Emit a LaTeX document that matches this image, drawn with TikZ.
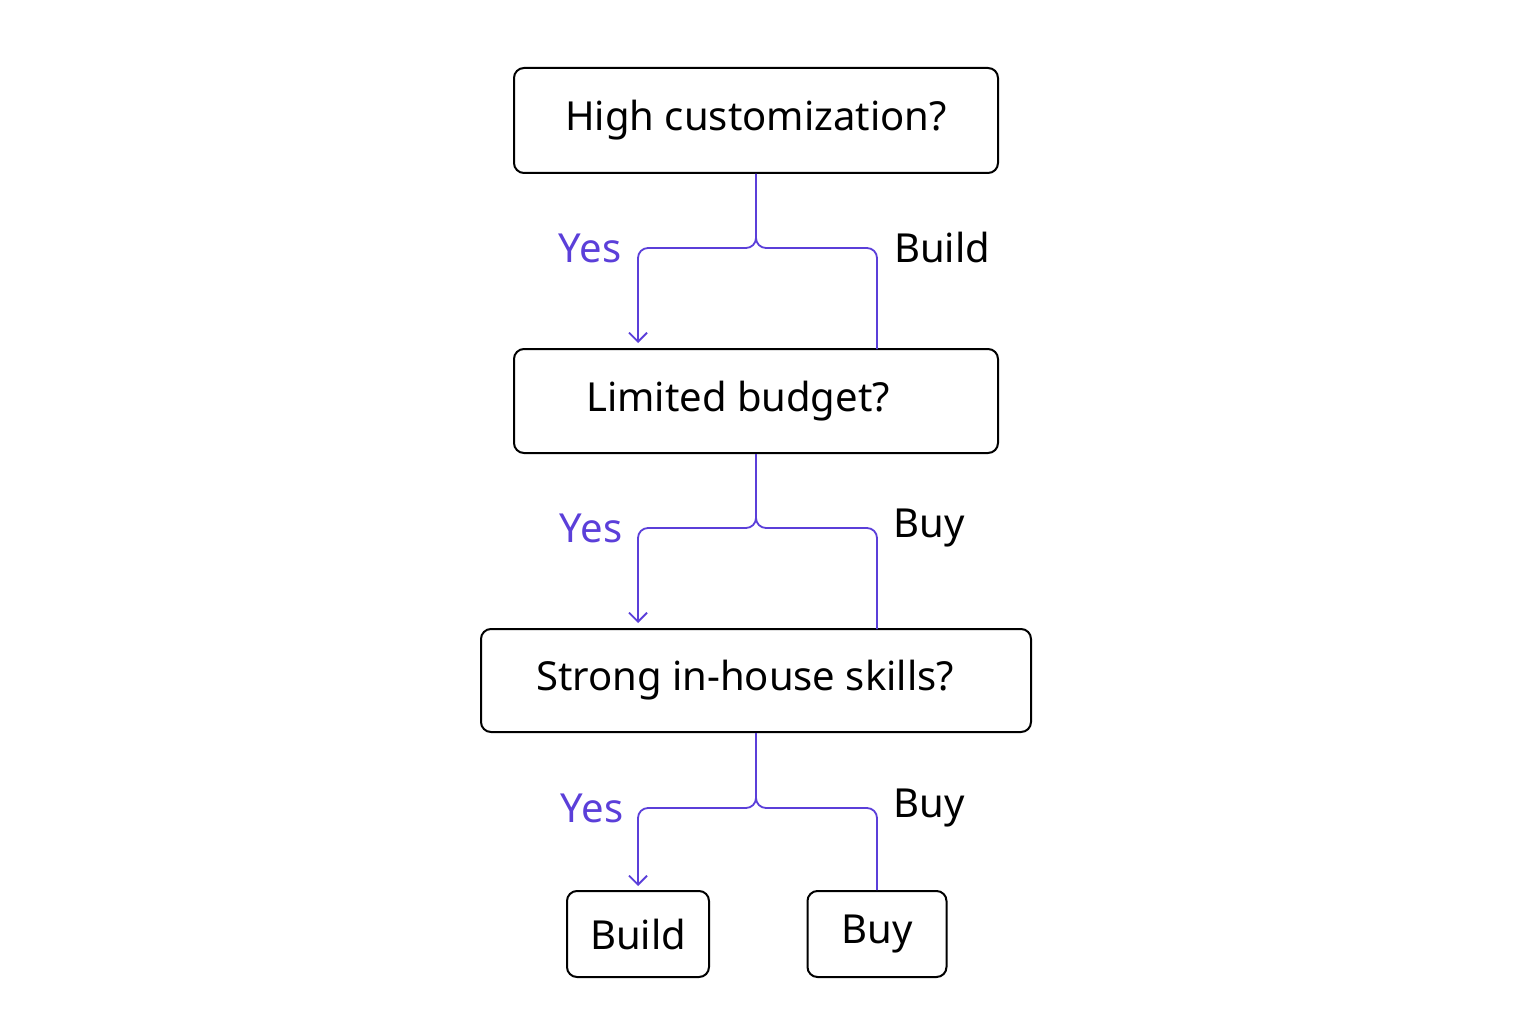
\documentclass[tikz,border=0pt]{standalone}
\usepackage{fontspec}
\setmainfont{Noto Sans}
\usetikzlibrary{arrows.meta}
\definecolor{pur}{HTML}{5B3FD9}
\begin{document}
\begin{tikzpicture}[x=1pt,y=-1pt,
 box/.style={draw,line width=2pt,rounded corners=10pt,inner sep=0pt,font=\fontsize{40}{48}\selectfont},
 con/.style={pur,line width=1.8pt,rounded corners=10pt},
 arr/.style={con,-{Straight Barb[length=9pt,width=18pt]}},
 yes/.style={pur,font=\fontsize{40}{48}\selectfont},
 lab/.style={font=\fontsize{40}{48}\selectfont}]
\useasboundingbox (0,0) rectangle (1536,1024);
\node[box,minimum width=484pt,minimum height=105pt] (b1) at (756,120.5) {High customization?};
\node[box,minimum width=484pt,minimum height=104pt] (b2) at (756,401) {\hspace*{-36pt}Limited budget?};
\node[box,minimum width=550pt,minimum height=103pt] (b3) at (756,680.5) {\hspace*{-22pt}Strong in-house skills?};
\node[box,minimum width=142pt,minimum height=86pt] (b4) at (638,934) {Build};
\node[box,minimum width=139pt,minimum height=86pt] (b5) at (877,934) {Buy};
\coordinate (a1) at (638,343);
\coordinate (a2) at (638,623);
\coordinate (a3) at (638,886);
\draw[arr] (b1.south) |- (700,248) -| (a1);
\draw[con] (b1.south) |- (820,248) -| (877,349);
\draw[arr] (b2.south) |- (700,528) -| (a2);
\draw[con] (b2.south) |- (820,528) -| (877,629);
\draw[arr] (b3.south) |- (700,808) -| (a3);
\draw[con] (b3.south) |- (820,808) -| (b5.north);
\node[yes] (y1) at (590,248) {Yes};
\node[lab] (l1) at (942,248) {Build};
\node[yes] (y2) at (591,528) {Yes};
\node[lab] (l2) at (929,528) {Buy};
\node[yes] (y3) at (592,808) {Yes};
\node[lab] (l3) at (929,808) {Buy};
\end{tikzpicture}
\end{document}
